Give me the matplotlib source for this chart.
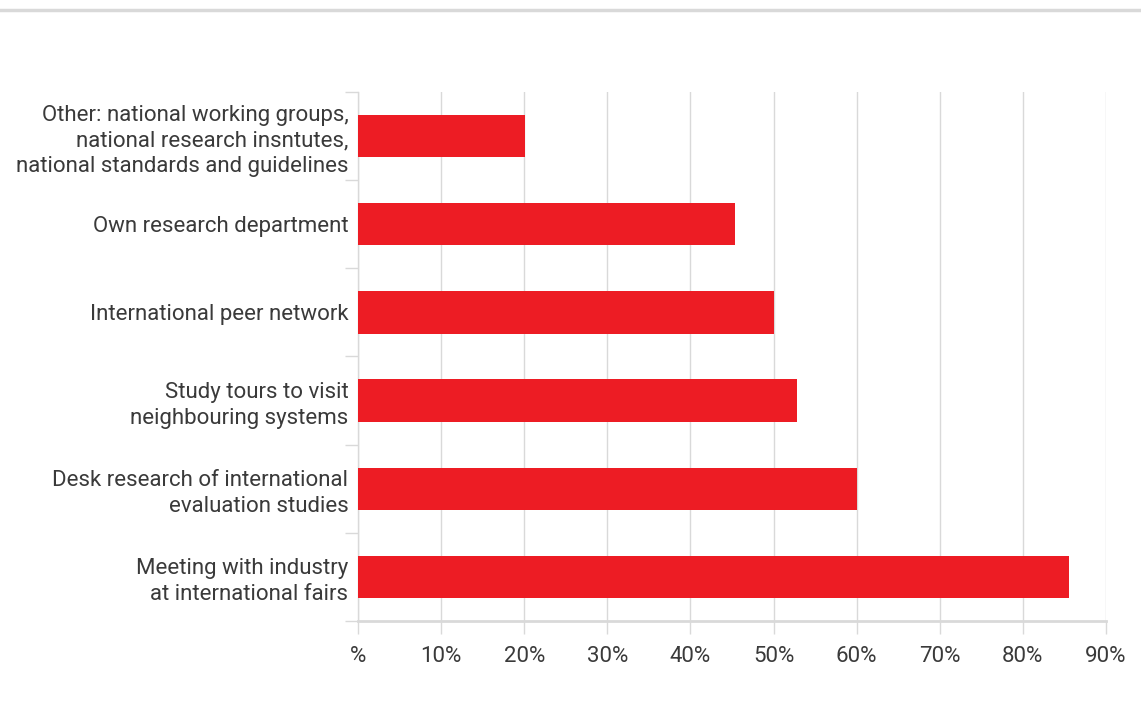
import matplotlib.pyplot as plt
from matplotlib.lines import Line2D

# data, bottom to top
categories = [
    "Meeting with industry\nat international fairs",
    "Desk research of international\nevaluation studies",
    "Study tours to visit\nneighbouring systems",
    "International peer network",
    "Own research department",
    "Other: national working groups,\nnational research insntutes,\nnational standards and guidelines",
]
values = [85.6, 60.0, 52.8, 50.0, 45.3, 20.1]
xticks = [0, 10, 20, 30, 40, 50, 60, 70, 80, 90]
xtick_labels = ["%", "10%", "20%", "30%", "40%", "50%", "60%", "70%", "80%", "90%"]

plt.rcParams['font.family'] = ['Roboto', 'DejaVu Sans']
grey = "#d9d9d9"
text_col = "#3a3a3a"

fig = plt.figure(figsize=(11.41, 7.24), dpi=100)
ax = fig.add_axes([0.3138, 0.1423, 0.9693 - 0.3138, 0.873 - 0.1423])

ax.barh(range(len(categories)), values, height=0.48, color="#ED1C24", zorder=3)

ax.set_xlim(0, 90)
ax.set_ylim(-0.5, len(categories) - 0.5)

ax.set_xticks(xticks)
ax.set_xticklabels(xtick_labels, fontsize=16, color=text_col)
ax.tick_params(axis="x", length=9, width=1, color=grey, pad=9)
ax.grid(axis="x", color=grey, linewidth=1, zorder=0)

ax.set_yticks(range(len(categories)))
ax.set_yticklabels(categories, fontsize=16, color=text_col, linespacing=1.3)
ax.tick_params(axis="y", which="major", length=0, pad=7)
ax.set_yticks([i - 0.5 for i in range(len(categories) + 1)], minor=True)
ax.tick_params(axis="y", which="minor", length=9.5, width=1, color=grey)

for s in ["top", "right"]:
    ax.spines[s].set_visible(False)
ax.spines["left"].set_color(grey)
ax.spines["left"].set_linewidth(1)
ax.spines["bottom"].set_color(grey)
ax.spines["bottom"].set_linewidth(2)
ax.spines["bottom"].set_zorder(4)

# thin rule at top of page
fig.add_artist(Line2D([0, 1], [1 - 10 / 724, 1 - 10 / 724], color=grey, linewidth=2.5))

fig.savefig("out.png", dpi=100)
